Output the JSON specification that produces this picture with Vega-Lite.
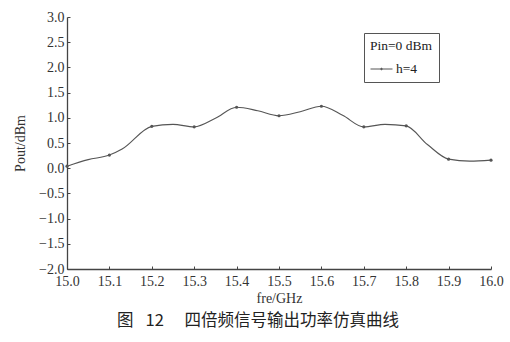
{
  "$schema": "https://vega.github.io/schema/vega-lite/v6.json",
  "width": 424,
  "height": 252,
  "autosize": {"type": "none"},
  "padding": {"left": 67, "top": 17, "right": 19, "bottom": 73},
  "background": "white",
  "title": {
    "text": "图\u2002 12\u3000\u2005四倍频信号输出功率仿真曲线",
    "orient": "bottom",
    "anchor": "middle",
    "dx": -21,
    "offset": 8,
    "font": "Noto Sans CJK SC",
    "fontSize": 16.5,
    "fontWeight": "normal",
    "color": "#222"
  },
  "config": {
    "view": {"stroke": null},
    "axis": {
      "labelFont": "Liberation Serif",
      "titleFont": "Liberation Serif",
      "labelFontSize": 14,
      "titleFontSize": 14,
      "titleFontWeight": "normal",
      "labelColor": "#333",
      "titleColor": "#333",
      "domainColor": "#444",
      "domainWidth": 1.3,
      "tickColor": "#444",
      "tickWidth": 1,
      "grid": false
    }
  },
  "data": {
    "values": [
      {"f": 15.0, "p": 0.04, "s": "h=4", "m": true},
      {"f": 15.05, "p": 0.17, "s": "h=4", "m": false},
      {"f": 15.1, "p": 0.26, "s": "h=4", "m": true},
      {"f": 15.13, "p": 0.38, "s": "h=4", "m": false},
      {"f": 15.2, "p": 0.83, "s": "h=4", "m": true},
      {"f": 15.25, "p": 0.87, "s": "h=4", "m": false},
      {"f": 15.3, "p": 0.82, "s": "h=4", "m": true},
      {"f": 15.35, "p": 0.99, "s": "h=4", "m": false},
      {"f": 15.4, "p": 1.21, "s": "h=4", "m": true},
      {"f": 15.45, "p": 1.14, "s": "h=4", "m": false},
      {"f": 15.5, "p": 1.04, "s": "h=4", "m": true},
      {"f": 15.55, "p": 1.12, "s": "h=4", "m": false},
      {"f": 15.6, "p": 1.23, "s": "h=4", "m": true},
      {"f": 15.65, "p": 1.05, "s": "h=4", "m": false},
      {"f": 15.7, "p": 0.82, "s": "h=4", "m": true},
      {"f": 15.75, "p": 0.87, "s": "h=4", "m": false},
      {"f": 15.8, "p": 0.84, "s": "h=4", "m": true},
      {"f": 15.85, "p": 0.47, "s": "h=4", "m": false},
      {"f": 15.9, "p": 0.18, "s": "h=4", "m": true},
      {"f": 15.95, "p": 0.14, "s": "h=4", "m": false},
      {"f": 16.0, "p": 0.16, "s": "h=4", "m": true}
    ]
  },
  "encoding": {
    "x": {
      "field": "f",
      "type": "quantitative",
      "title": "fre/GHz",
      "scale": {"domain": [15.0, 16.0], "nice": false, "zero": false},
      "axis": {
        "values": [15.0, 15.1, 15.2, 15.3, 15.4, 15.5, 15.6, 15.7, 15.8, 15.9, 16.0],
        "format": ".1f",
        "tickSize": -3,
        "labelPadding": 8,
        "titlePadding": 3,
        "labelFlush": false
      }
    },
    "y": {
      "field": "p",
      "type": "quantitative",
      "title": "Pout/dBm",
      "scale": {"domain": [-2.0, 3.0], "nice": false, "zero": false},
      "axis": {
        "values": [-2.0, -1.5, -1.0, -0.5, 0.0, 0.5, 1.0, 1.5, 2.0, 2.5, 3.0],
        "format": ".1f",
        "tickSize": -3,
        "labelPadding": 6,
        "titlePadding": 11,
        "labelFlush": false
      }
    },
    "color": {
      "field": "s",
      "type": "nominal",
      "scale": {"domain": ["h=4"], "range": ["#555555"]},
      "legend": {
        "title": "Pin=0 dBm",
        "orient": "none",
        "legendX": 297,
        "legendY": 16,
        "strokeColor": "#555",
        "padding": 6,
        "titleFont": "Liberation Serif",
        "titleFontSize": 13.5,
        "titleFontWeight": "normal",
        "titleColor": "#222",
        "titlePadding": 5,
        "labelFont": "Liberation Serif",
        "labelFontSize": 13.5,
        "labelColor": "#222",
        "labelOffset": 3,
        "symbolType": "M-1,0H1M0.07,0A0.07,0.07,0,1,1,-0.07,0A0.07,0.07,0,1,1,0.07,0Z",
        "symbolSize": 484,
        "symbolStrokeWidth": 1,
        "symbolStrokeColor": "#555",
        "symbolFillColor": "#555"
      }
    }
  },
  "layer": [
    {
      "mark": {"type": "line", "interpolate": "monotone", "strokeWidth": 1.1}
    },
    {
      "transform": [{"filter": "datum.m"}],
      "mark": {"type": "point", "filled": true, "size": 10, "opacity": 1}
    }
  ]
}
